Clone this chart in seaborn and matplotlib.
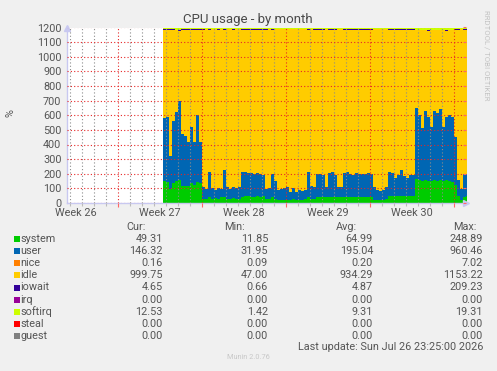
import numpy as np
import pandas as pd
import matplotlib
matplotlib.use("Agg")
import matplotlib.pyplot as plt
import seaborn as sns
from matplotlib.patches import Rectangle
from matplotlib.transforms import blended_transform_factory

# ---------------- data ----------------
SERIES = ["system", "user", "nice", "idle", "iowait", "irq", "softirq", "steal", "guest"]
COLORS = ["#00CC00", "#0066B3", "#FF8000", "#FFCC00", "#330099",
          "#990099", "#CCFF00", "#FF0000", "#808080"]

T_START = 8.0      # day offset of first sample (days from left edge of graph)
T_STEP = 0.25      # 6-hour samples
TOTAL = 1200       # 12 CPUs -> stack top

system = [151, 146, 95, 135, 150, 158, 117, 119, 117, 135,
          123, 146, 135, 25, 30, 43, 25, 34, 30, 43,
          43, 30, 25, 34, 25, 30, 43, 45, 45, 43,
          43, 45, 43, 45, 25, 25, 43, 30, 22, 22,
          20, 22, 22, 25, 20, 22, 22, 25, 43, 30,
          30, 43, 43, 43, 40, 43, 43, 43, 40, 40,
          43, 43, 43, 43, 43, 43, 43, 43, 43, 43,
          20, 20, 20, 22, 25, 48, 48, 45, 48, 48,
          45, 48, 48, 48, 162, 155, 150, 158, 150, 148,
          155, 150, 158, 150, 155, 150, 146, 120, 50, 20,
          43, 49]

user = [429, 444, 225, 425, 470, 542, 353, 341, 303, 385,
        297, 454, 285, 85, 65, 172, 75, 56, 70, 53,
        183, 80, 71, 76, 80, 80, 172, 170, 163, 160,
        156, 158, 156, 147, 69, 76, 156, 120, 67, 72,
        80, 86, 56, 76, 58, 67, 62, 64, 172, 87,
        78, 156, 156, 149, 68, 165, 172, 149, 68, 68,
        165, 172, 156, 150, 160, 158, 152, 156, 160, 154,
        88, 69, 64, 67, 83, 167, 160, 124, 144, 178,
        140, 121, 144, 144, 488, 445, 360, 472, 440, 372,
        475, 465, 482, 370, 435, 450, 444, 330, 110, 75,
        157, 146]

nice = [0.3, 0.2, 0.2, 0.3, 0.2, 0.2, 0.2, 0.3, 0.2, 0.2,
        0.2, 0.2, 0.2, 0.2, 0.1, 0.2, 0.2, 0.2, 0.2, 0.2,
        0.2, 0.2, 0.1, 0.2, 0.2, 0.2, 0.2, 0.2, 0.2, 0.2,
        0.2, 0.2, 0.2, 0.2, 0.2, 0.1, 0.2, 0.2, 0.2, 0.2,
        0.2, 0.2, 0.2, 0.2, 0.2, 0.2, 0.2, 0.2, 0.2, 0.2,
        0.2, 0.2, 0.2, 0.2, 0.2, 0.2, 0.2, 0.2, 0.2, 0.2,
        0.2, 0.2, 0.2, 0.2, 0.2, 0.2, 0.2, 0.2, 0.2, 0.2,
        0.2, 0.2, 0.2, 0.2, 0.2, 0.2, 0.2, 0.2, 0.2, 0.2,
        0.2, 0.2, 0.2, 0.2, 0.3, 0.2, 0.2, 0.2, 0.2, 0.2,
        0.2, 0.2, 0.2, 0.2, 0.2, 0.2, 0.2, 0.2, 0.2, 0.2,
        0.2, 0.16]

iowait = [6, 5, 4, 6, 5, 7, 5, 4, 5, 6,
          5, 4, 5, 6, 4, 5, 5, 4, 6, 5,
          5, 4, 5, 6, 5, 4, 5, 5, 6, 4,
          5, 5, 4, 5, 6, 5, 4, 5, 5, 6,
          5, 4, 5, 5, 6, 4, 5, 5, 4, 5,
          6, 5, 5, 4, 5, 5, 6, 5, 4, 5,
          5, 4, 6, 5, 5, 4, 5, 5, 6, 5,
          4, 5, 5, 6, 4, 5, 5, 8, 5, 4,
          5, 6, 5, 4, 5, 5, 4, 5, 6, 5,
          5, 4, 5, 5, 6, 5, 4, 6, 5, 5,
          5, 4.65]

softirq = [13, 13, 10, 13, 14, 14, 12, 12, 12, 13,
           12, 13, 12, 8, 8, 10, 8, 8, 8, 8,
           10, 8, 8, 8, 8, 8, 10, 10, 10, 10,
           10, 10, 10, 10, 8, 8, 10, 8, 7, 7,
           7, 8, 7, 7, 7, 8, 7, 7, 10, 8,
           8, 10, 10, 10, 8, 10, 10, 10, 8, 8,
           10, 10, 10, 10, 10, 10, 10, 10, 10, 10,
           7, 7, 7, 7, 8, 10, 10, 9, 10, 10,
           9, 10, 10, 10, 15, 15, 14, 15, 15, 14,
           15, 15, 15, 14, 15, 15, 15, 13, 9, 7,
           10, 12.53]

irq = [0.0] * len(system)
steal = [0.0] * len(system)
guest = [0.0] * len(system)

CUR = ["49.31", "146.32", "0.16", "999.75", "4.65", "0.00", "12.53", "0.00", "0.00"]
MIN = ["11.85", "31.95", "0.09", "47.00", "0.66", "0.00", "1.42", "0.00", "0.00"]
AVG = ["64.99", "195.04", "0.20", "934.29", "4.87", "0.00", "9.31", "0.00", "0.00"]
MAX = ["248.89", "960.46", "7.02", "1153.22", "209.23", "0.00", "19.31", "0.00", "0.00"]

WEEK_LABELS = ["Week 26", "Week 27", "Week 28", "Week 29", "Week 30"]
WEEK_BOUNDS = [-2.75, 4.25, 11.25, 18.25, 25.25, 32.25]   # week boundaries (days)
X_END = 33.25
TITLE = "CPU usage - by month"
LAST_UPDATE = "Last update: Sun Jul 26 23:25:00 2026"

# ---------------- build table ----------------
n = len(system)
t = T_START + T_STEP * np.arange(n)
others = (np.array(system) + np.array(user) + np.array(nice) + np.array(iowait)
          + np.array(irq) + np.array(softirq) + np.array(steal) + np.array(guest))
idle = TOTAL - others
vals = {"system": system, "user": user, "nice": nice, "idle": idle, "iowait": iowait,
        "irq": irq, "softirq": softirq, "steal": steal, "guest": guest}
df = pd.DataFrame({"t": t})
for s in SERIES:
    df[s] = np.asarray(vals[s], float)

# ---------------- style ----------------
sns.set_style("white")
plt.rcParams["font.family"] = ["Roboto", "DejaVu Sans"]
TXT = "#555555"
BG = "#F0F0F0"

W, H = 497, 371
fig = plt.figure(figsize=(W / 100, H / 100), dpi=100, facecolor=BG)
L, R, T, B = 67, 466, 27.5, 203
ax = fig.add_axes([L / W, 1 - B / H, (R - L) / W, (B - T) / H])
ax.set_facecolor("white")

# stacked step areas (RRDtool AREA/STACK)
xs = np.append(df["t"].values, df["t"].values[-1] + T_STEP)
base = np.zeros(len(xs))
for s, c in zip(SERIES, COLORS):
    v = np.append(df[s].values, df[s].values[-1])
    top = base + v
    if v.max() > 0:
        ax.fill_between(xs, base, top, step="post", color=c, lw=0, zorder=1)
    base = top
# thin outline of the stack top via seaborn
edge = pd.DataFrame({"t": xs, "top": base})
sns.lineplot(data=edge, x="t", y="top", drawstyle="steps-post", color=COLORS[6],
             linewidth=0.6, ax=ax, zorder=1.5)

ax.set_xlim(0, X_END)
ax.set_ylim(0, 1200)
ax.set_xlabel("")
ax.set_ylabel("")

# grid
ax.set_axisbelow(False)
ax.set_yticks(np.arange(0, 1201, 100))
ax.set_xticks(WEEK_BOUNDS[1:])
ax.set_xticklabels([])
ax.set_xticks(np.arange(0.25, X_END, 1.0), minor=True)
ax.grid(which="major", axis="both", color=(0.9, 0.15, 0.15, 0.40), linestyle=(0, (1, 2)), linewidth=0.8)
ax.grid(which="minor", axis="x", color=(0.55, 0.55, 0.55, 0.35), linestyle=(0, (1, 2)), linewidth=0.8)
ax.tick_params(axis="y", which="major", left=False, right=True, direction="in", length=2,
               color="#ff6666", labelsize=7.8, labelcolor=TXT, pad=4)
ax.tick_params(axis="x", which="major", bottom=True, length=3, color="#ff6666", width=0.8)
ax.tick_params(axis="x", which="minor", bottom=True, length=2, color="#bbbbbb", width=0.8)

for s in ["top", "right"]:
    ax.spines[s].set_visible(False)
for s in ["left", "bottom"]:
    ax.spines[s].set_color("#C8C8F0")
    ax.spines[s].set_linewidth(1.0)
ax.plot([0], [1.0], transform=ax.transAxes, marker="^", color="#C8C8F0", ms=5, clip_on=False)
ax.plot([1.0], [0], transform=ax.transAxes, marker=">", color="#C8C8F0", ms=5, clip_on=False)

# week labels centered between boundaries
tr = blended_transform_factory(ax.transData, fig.transFigure)
for i, lab in enumerate(WEEK_LABELS):
    xc = (WEEK_BOUNDS[i] + WEEK_BOUNDS[i + 1]) / 2
    ax.text(xc, 1 - 212.5 / H, lab, transform=tr, ha="center", va="center",
            fontsize=7.8, color=TXT, clip_on=False)

# texts
fig.text(248 / W, 1 - 20 / H, TITLE, ha="center", va="center", fontsize=9.5, color="#4a4a4a")
fig.text(10 / W, 1 - 113 / H, "%", ha="center", va="center", rotation=90, fontsize=7.8, color=TXT)
fig.text(487 / W, 1 - 55 / H, "RRDTOOL / TOBI OETIKER", ha="center", va="center",
         rotation=270, fontsize=5.6, color="#c4c4c4")

# legend table
hdr_y = 227
fig.text(146 / W, 1 - hdr_y / H, "Cur:", ha="right", va="center", fontsize=7.8, color=TXT)
fig.text(245 / W, 1 - hdr_y / H, "Min:", ha="right", va="center", fontsize=7.8, color=TXT)
fig.text(357 / W, 1 - hdr_y / H, "Avg:", ha="right", va="center", fontsize=7.8, color=TXT)
fig.text(477 / W, 1 - hdr_y / H, "Max:", ha="right", va="center", fontsize=7.8, color=TXT)
for i, s in enumerate(SERIES):
    y = 239.3 + 12.05 * i
    fig.add_artist(Rectangle((14 / W, 1 - (y + 3) / H), 6 / W, 6 / H,
                             transform=fig.transFigure, color=COLORS[i], lw=0))
    fig.text(20.5 / W, 1 - y / H, s, ha="left", va="center", fontsize=7.8, color=TXT)
    for xr, col in zip([163, 268, 373, 483], [CUR, MIN, AVG, MAX]):
        fig.text(xr / W, 1 - y / H, col[i], ha="right", va="center", fontsize=7.8, color=TXT)

fig.text(483 / W, 1 - 347 / H, LAST_UPDATE, ha="right", va="center", fontsize=7.8, color=TXT)
fig.text(248 / W, 1 - 357.5 / H, "Munin 2.0.76", ha="center", va="center", fontsize=5.3, color="#c8c8c8")

fig.savefig("out.png", dpi=100, facecolor=BG)
